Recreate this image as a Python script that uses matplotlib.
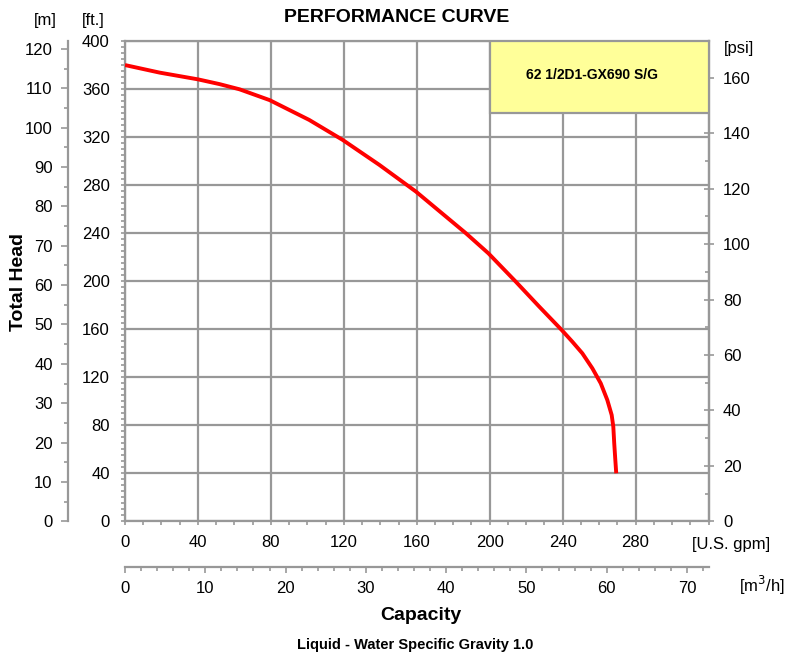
import matplotlib
matplotlib.use('Agg')
import matplotlib.pyplot as plt
from matplotlib.ticker import MultipleLocator
from matplotlib.patches import Rectangle

plt.rcParams['font.family'] = ['Liberation Sans', 'DejaVu Sans']

# pump curve: capacity [U.S. gpm] vs total head [ft]
flow_gpm = [0, 19, 40, 51.9, 62.8, 79.3, 101, 119.4, 139.5, 159.6, 187, 199.3, 214.3,
            227.1, 239.5, 245.3, 250.8, 256.3, 260.9, 264.5, 266.9, 267.8,
            268.3, 268.9, 269.4]
head_ft = [380.2, 373.9, 368.3, 364.3, 360, 351, 334.5, 317.8, 297, 274.7, 240, 223.3,
           199.7, 179, 159.4, 149.7, 140, 127.5, 115, 101.1, 88.6, 78.8,
           65, 51.1, 40]

model_name = '62 1/2D1-GX690 S/G'
gpm_ticks = [0, 40, 80, 120, 160, 200, 240, 280]
ft_ticks = [0, 40, 80, 120, 160, 200, 240, 280, 320, 360, 400]
m_ticks = [0, 10, 20, 30, 40, 50, 60, 70, 80, 90, 100, 110, 120]
psi_ticks = [0, 20, 40, 60, 80, 100, 120, 140, 160]
m3h_ticks = [0, 10, 20, 30, 40, 50, 60, 70]

FT_PER_M = 3.28084
FT_PER_PSI = 2.31
GPM_PER_M3H = 4.4029

grey = '#989898'
W, H = 788, 660
tick_fs = 12

fig = plt.figure(figsize=(W / 100, H / 100), dpi=100)
ax = fig.add_axes([125 / W, 1 - 521.3 / H, 583.5 / W, 480 / H])

ax.plot(flow_gpm, head_ft, color='#ff0000', linewidth=2.8, solid_joinstyle='round',
        solid_capstyle='butt', zorder=4)

ax.set_xlim(0, 320)
ax.set_ylim(0, 400)
ax.set_xticks(gpm_ticks)
ax.set_yticks(ft_ticks)
ax.xaxis.set_minor_locator(MultipleLocator(10))
ax.yaxis.set_minor_locator(MultipleLocator(5))
ax.grid(True, which='major', color=grey, linewidth=1.6)
ax.set_axisbelow(True)
for s in ax.spines.values():
    s.set_color(grey)
    s.set_linewidth(1.6)
ax.tick_params(which='both', direction='out', color=grey, width=1.2, labelsize=tick_fs)
ax.tick_params(which='major', length=3)
ax.tick_params(which='minor', length=3)
ax.tick_params(axis='y', pad=8)
ax.tick_params(axis='x', pad=7)

# model name box
box = Rectangle((200, 340), 120, 60, facecolor='#ffff99', edgecolor=grey,
                linewidth=1.6, zorder=3)
ax.add_patch(box)
ax.text(256, 372, model_name, ha='center', va='center', fontsize=10,
        fontweight='bold', zorder=5)

# head in metres, outer left axis
ax_m = ax.secondary_yaxis(-57 / 583.5, functions=(lambda x: x / FT_PER_M,
                                                   lambda x: x * FT_PER_M))
ax_m.set_yticks(m_ticks)
ax_m.yaxis.set_minor_locator(MultipleLocator(5))
ax_m.spines['left'].set_color(grey)
ax_m.spines['left'].set_linewidth(1.6)
ax_m.tick_params(which='both', direction='out', color=grey, width=1.2, labelsize=tick_fs)
ax_m.tick_params(which='major', length=5, pad=6)
ax_m.tick_params(which='minor', length=3)

# pressure on the right
ax_p = ax.secondary_yaxis('right', functions=(lambda x: x / FT_PER_PSI,
                                              lambda x: x * FT_PER_PSI))
ax_p.set_yticks(psi_ticks)
ax_p.yaxis.set_minor_locator(MultipleLocator(10))
ax_p.spines['right'].set_color(grey)
ax_p.spines['right'].set_linewidth(1.6)
ax_p.tick_params(which='major', direction='inout', length=7, color=grey, width=1.2,
                 labelsize=tick_fs, pad=7)
ax_p.tick_params(which='minor', direction='in', length=3, color=grey, width=1.2)

# capacity in m3/h, second bottom axis
ax_q = ax.secondary_xaxis(-45.4 / 480, functions=(lambda x: x / GPM_PER_M3H,
                                                   lambda x: x * GPM_PER_M3H))
ax_q.set_xticks(m3h_ticks)
ax_q.xaxis.set_minor_locator(MultipleLocator(2))
ax_q.spines['bottom'].set_color(grey)
ax_q.spines['bottom'].set_linewidth(1.6)
ax_q.tick_params(which='both', direction='out', color=grey, width=1.2, labelsize=tick_fs)
ax_q.tick_params(which='major', length=4, pad=6)
ax_q.tick_params(which='minor', length=3)


def label(x, y, s, **kw):
    fig.text(x / W, 1 - y / H, s, va='center', **kw)


label(397, 18, 'PERFORMANCE CURVE', ha='center', fontsize=14, fontweight='bold')
label(45, 20, '[m]', ha='center', fontsize=tick_fs)
label(93.5, 20, '[ft.]', ha='center', fontsize=tick_fs)
label(739, 48, '[psi]', ha='center', fontsize=tick_fs)
label(692, 544, '[U.S. gpm]', ha='left', fontsize=tick_fs)
label(739, 585, '[m$^3$/h]', ha='left', fontsize=tick_fs)
label(421, 616, 'Capacity', ha='center', fontsize=14, fontweight='bold')
label(415, 645, 'Liquid - Water Specific Gravity 1.0', ha='center', fontsize=10.5,
      fontweight='bold')
label(18.5, 282, 'Total Head', ha='center', fontsize=14, fontweight='bold', rotation=90)

fig.savefig('out.png', dpi=100)
